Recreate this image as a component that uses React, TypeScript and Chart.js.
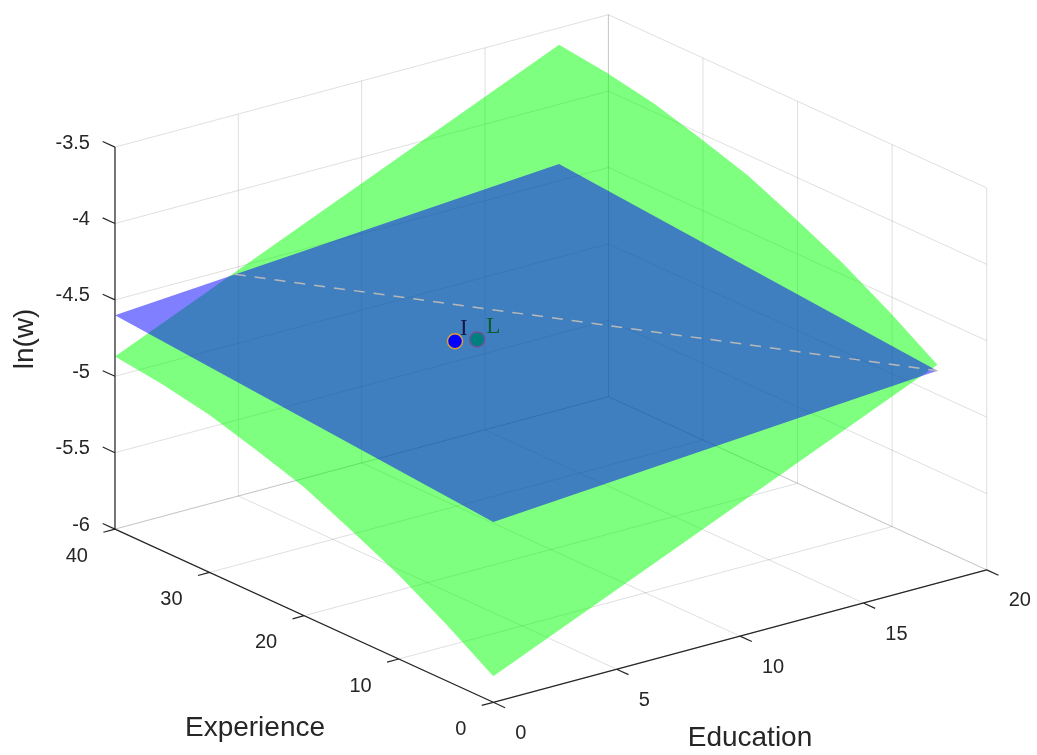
import { useEffect, useRef } from "react";
import { Chart, registerables } from "chart.js";

Chart.register(...registerables);

// axis ticks
const educationTicks = [0, 5, 10, 15, 20];
const experienceTicks = [0, 10, 20, 30, 40];
const lnwTicks = [-6, -5.5, -5, -4.5, -4, -3.5];

// green surface: ln(w) read along the education = 0 and education = 18 edges
const surfaceEducation = [0, 18];
const greenExperience = [0, 5, 10, 15, 20, 25, 30, 35, 40];
const greenLnwEdu0 = [-5.83, -5.63, -5.45, -5.3, -5.16, -5.06, -4.97, -4.91, -4.87];
const greenLnwEdu18 = [-4.57, -4.37, -4.19, -4.04, -3.9, -3.8, -3.71, -3.65, -3.61];

// blue plane: corners
const blueExperience = [0, 40];
const blueLnwEdu0 = [-4.82, -4.6];
const blueLnwEdu18 = [-4.61, -4.39];

// dashed line lying on the blue plane
const lineEducation = [4.86, 18];
const lineExperience = [40, 0];
const lineLnw = [-4.543, -4.61];

// marked points
const pointNames = ["I", "L"];
const pointEducation = [7.15, 8.05];
const pointExperience = [22.7, 22.7];
const pointLnw = [-4.59, -4.617];

// view (screen position of the 3d box)
const W = 1037;
const H = 755;
const ORIGIN = { x: 493.3, y: 702.3 };
const EDU_STEP = { x: 24.67, y: -6.62 };
const EXP_STEP = { x: -9.458, y: -4.33 };
const LNW_STEP = -152.8;
const EDU_MAX = 20;
const EXP_MAX = 40;
const LNW_MIN = -6;
const LNW_MAX = -3.5;

const project = (e: number, x: number, z: number) => ({
  x: ORIGIN.x + e * EDU_STEP.x + x * EXP_STEP.x,
  y: ORIGIN.y + e * EDU_STEP.y + x * EXP_STEP.y + (z - LNW_MIN) * LNW_STEP,
});

type P3 = [number, number, number];
const GAP = { x: NaN, y: NaN };
const segments = (list: [P3, P3][]) =>
  list.flatMap(([a, b]) => [project(...a), project(...b), GAP]);

const gridLines: [P3, P3][] = [
  ...educationTicks.map((e): [P3, P3] => [[e, EXP_MAX, LNW_MIN], [e, EXP_MAX, LNW_MAX]]),
  ...lnwTicks.map((z): [P3, P3] => [[0, EXP_MAX, z], [EDU_MAX, EXP_MAX, z]]),
  ...experienceTicks.map((x): [P3, P3] => [[EDU_MAX, x, LNW_MIN], [EDU_MAX, x, LNW_MAX]]),
  ...lnwTicks.map((z): [P3, P3] => [[EDU_MAX, 0, z], [EDU_MAX, EXP_MAX, z]]),
  ...educationTicks.map((e): [P3, P3] => [[e, 0, LNW_MIN], [e, EXP_MAX, LNW_MIN]]),
  ...experienceTicks.map((x): [P3, P3] => [[0, x, LNW_MIN], [EDU_MAX, x, LNW_MIN]]),
];

const axisLines: [P3, P3][] = [
  [[0, EXP_MAX, LNW_MIN], [0, EXP_MAX, LNW_MAX]],
  [[0, 0, LNW_MIN], [0, EXP_MAX, LNW_MIN]],
  [[0, 0, LNW_MIN], [EDU_MAX, 0, LNW_MIN]],
  ...lnwTicks.map((z): [P3, P3] => [[0, EXP_MAX, z], [0, EXP_MAX + 1.3, z]]),
  ...experienceTicks.map((x): [P3, P3] => [[0, x, LNW_MIN], [-0.47, x, LNW_MIN]]),
  ...educationTicks.map((e): [P3, P3] => [[e, 0, LNW_MIN], [e, -1.25, LNW_MIN]]),
];

// outline of a surface given its two education edges
const outline = (exp: number[], edu0: number[], edu1: number[]) => {
  const [e0, e1] = surfaceEducation;
  const pts = exp.map((x, i) => project(e0, x, edu0[i]));
  for (let i = exp.length - 1; i >= 0; i--) pts.push(project(e1, exp[i], edu1[i]));
  return pts;
};

const textPlugin = {
  id: "axisText",
  afterDatasetsDraw(chart: any) {
    const { ctx } = chart;
    const sx = chart.scales.x;
    const sy = chart.scales.y;
    const at = (p: { x: number; y: number }) => ({
      x: sx.getPixelForValue(p.x),
      y: sy.getPixelForValue(p.y),
    });
    ctx.save();
    ctx.fillStyle = "#262626";
    ctx.font = '20px "Liberation Sans", Arial, sans-serif';
    ctx.textBaseline = "middle";

    ctx.textAlign = "right";
    lnwTicks.forEach((z) => {
      const p = at(project(0, EXP_MAX, z));
      ctx.fillText(String(z), p.x - 25, p.y - 4);
    });
    experienceTicks.forEach((x) => {
      const p = at(project(0, x, LNW_MIN));
      ctx.fillText(String(x), p.x - 27, p.y + 27);
    });
    ctx.textAlign = "left";
    educationTicks.forEach((e) => {
      const p = at(project(e, 0, LNW_MIN));
      ctx.fillText(String(e), p.x + 22, p.y + 31);
    });

    ctx.font = '28px "Liberation Sans", Arial, sans-serif';
    ctx.textAlign = "center";
    ctx.fillText("Experience", 255, 728);
    ctx.fillText("Education", 750, 738);
    ctx.save();
    ctx.translate(25, 339);
    ctx.rotate(-Math.PI / 2);
    ctx.fillText("ln(w)", 0, 0);
    ctx.restore();

    ctx.font = '23px "Liberation Serif", "Times New Roman", serif';
    ctx.textAlign = "left";
    ctx.textBaseline = "alphabetic";
    const labelColors = ["#17174a", "#0e5a32"];
    pointNames.forEach((name, i) => {
      const p = at(project(pointEducation[i], pointExperience[i], pointLnw[i]));
      ctx.fillStyle = labelColors[i];
      ctx.fillText(name, p.x + (i === 0 ? 5 : 9), p.y - 6);
    });
    ctx.restore();
  },
};

const SurfaceChart = () => {
  const chartRef = useRef<HTMLCanvasElement>(null);

  useEffect(() => {
    document.body.style.margin = "0";
    const ctx = chartRef.current!.getContext("2d")!;

    const line = (data: any[], color: string, width: number, extra: any = {}) => ({
      type: "scatter",
      data,
      showLine: true,
      spanGaps: false,
      pointRadius: 0,
      borderColor: color,
      borderWidth: width,
      fill: false,
      tension: 0,
      ...extra,
    });
    const dot = (i: number, fillColor: string) => ({
      type: "scatter",
      data: [project(pointEducation[i], pointExperience[i], pointLnw[i])],
      pointRadius: 7.5,
      pointBackgroundColor: fillColor,
      pointBorderColor: "#e0a030",
      pointBorderWidth: 1.5,
      showLine: false,
    });

    // bottom to top
    const layers: any[] = [
      line(segments(gridLines), "rgba(38,38,38,0.15)", 1),
      line(outline(greenExperience, greenLnwEdu0, greenLnwEdu18), "rgba(0,0,0,0)", 0, {
        fill: "shape",
        backgroundColor: "rgba(0,255,0,0.5)",
      }),
      dot(1, "#00ff00"),
      line(outline(blueExperience, blueLnwEdu0, blueLnwEdu18), "rgba(0,0,0,0)", 0, {
        fill: "shape",
        backgroundColor: "rgba(0,0,255,0.5)",
      }),
      line(
        lineEducation.map((e, i) => project(e, lineExperience[i], lineLnw[i])),
        "#b8b8b8",
        1.5,
        { borderDash: [11, 9] }
      ),
      dot(0, "#0000ff"),
      line(segments(axisLines), "#262626", 1.2),
    ];
    layers.forEach((d, i) => (d.order = layers.length - i));

    const myChart = new Chart(ctx, {
      type: "scatter",
      data: { datasets: layers },
      options: {
        animation: false,
        responsive: true,
        maintainAspectRatio: false,
        events: [],
        layout: { padding: 0, autoPadding: false },
        plugins: { legend: { display: false }, tooltip: { enabled: false } },
        scales: {
          x: { type: "linear", min: 0, max: W, display: false },
          y: { type: "linear", min: 0, max: H, reverse: true, display: false },
        },
      },
      plugins: [textPlugin],
    } as any);

    return () => {
      myChart.destroy();
    };
  }, []);

  return (
    <div style={{ position: "relative", width: W, height: H, overflow: "hidden" }}>
      <canvas ref={chartRef} />
    </div>
  );
};

export default function App() {
  return <SurfaceChart />;
}
